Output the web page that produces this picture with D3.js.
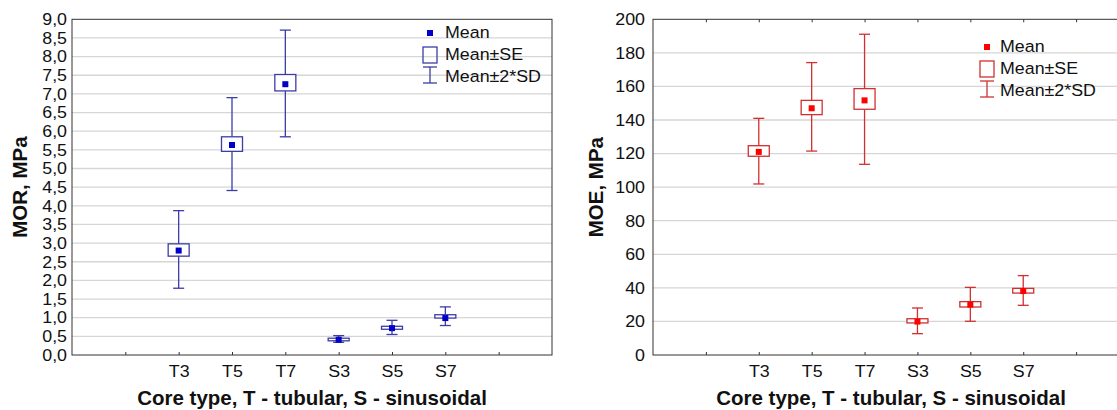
<!DOCTYPE html>
<html>
<head>
<meta charset="utf-8">
<script src="https://cdn.jsdelivr.net/npm/d3@7"></script>
<style>
  body { margin: 0; background: #fff; }
  svg { display: block; font-family: "Liberation Sans", Arial, sans-serif; }
</style>
</head>
<body>
<svg id="chart" width="1117" height="410"></svg>
<script>
// categories and tick positions
const categories = ["T3", "T5", "T7", "S3", "S5", "S7"];
const catSlots = [2, 3, 4, 5, 6, 7];
const xTicks = [1, 2, 3, 4, 5, 6, 7, 8];

// MOR, MPa
const morMean   = [2.80, 5.63, 7.26, 0.41, 0.72, 0.99];
const morSeLow  = [2.65, 5.46, 7.08, 0.38, 0.69, 0.99];
const morSeHigh = [2.98, 5.85, 7.52, 0.45, 0.77, 1.08];
const morSdLow  = [1.79, 4.41, 5.85, 0.34, 0.55, 0.79];
const morSdHigh = [3.87, 6.90, 8.71, 0.52, 0.93, 1.29];
const morTicks  = d3.range(0, 9.01, 0.5);

// MOE, MPa
const moeMean   = [121.0, 147.0, 151.7, 19.9, 30.0, 38.1];
const moeSeLow  = [118.4, 143.2, 146.4, 19.1, 28.6, 36.9];
const moeSeHigh = [124.7, 151.7, 158.7, 21.6, 31.8, 39.7];
const moeSdLow  = [101.9, 121.5, 113.6, 12.7, 20.1, 29.6];
const moeSdHigh = [141.0, 174.2, 191.1, 28.0, 40.3, 47.3];
const moeTicks  = d3.range(0, 201, 20);

const legendKeys = ["Mean", "Mean±SE", "Mean±2*SD"];

const svg = d3.select("#chart");
const plotTop = 19.3, plotBottom = 355;
const labelSize = "16.5px";

// the source font runs wider than Arial, stretch regular text a bit
const wide = sel => sel.attr("transform", function () {
    const x = +this.getAttribute("x") || 0;
    return `translate(${x},0) scale(1.08,1) translate(${-x},0)`;
});

function drawPanel(opt) {
    const g = svg.append("g");
    const x = d3.scaleLinear().domain([0, 9]).range([opt.left, opt.left + opt.width]);
    const y = d3.scaleLinear().domain(opt.domain).range([plotBottom, plotTop]);

    // grid
    g.append("g")
        .selectAll("line")
        .data(opt.ticks.slice(1, -1))
        .enter()
        .append("line")
        .attr("x1", opt.left)
        .attr("x2", opt.left + opt.width)
        .attr("y1", d => y(d))
        .attr("y2", d => y(d))
        .attr("stroke", "#d6d6d6")
        .attr("stroke-width", 1.3);

    // y axis labels
    const yAxis = g.append("g")
        .attr("transform", `translate(${opt.left},0)`)
        .call(d3.axisLeft(y).tickValues(opt.ticks).tickSize(0).tickPadding(opt.yPad).tickFormat(opt.fmt));
    yAxis.select(".domain").remove();
    yAxis.selectAll("text").style("font-size", labelSize).attr("fill", "#111").call(wide);

    // x axis, ticks point inward
    const xAxis = g.append("g")
        .attr("transform", `translate(0,${plotBottom})`)
        .call(d3.axisBottom(x).tickValues(xTicks).tickSizeInner(-3).tickSizeOuter(0).tickPadding(10)
            .tickFormat(d => {
                const i = catSlots.indexOf(d);
                return i < 0 ? "" : categories[i];
            }));
    xAxis.select(".domain").remove();
    xAxis.selectAll("line").attr("stroke", "#333");
    xAxis.selectAll("text").style("font-size", labelSize).attr("fill", "#111").call(wide);

    if (opt.topTicks) {
        const tAxis = g.append("g")
            .attr("transform", `translate(0,${plotTop})`)
            .call(d3.axisTop(x).tickValues(xTicks).tickSizeInner(-3).tickSizeOuter(0).tickFormat(""));
        tAxis.select(".domain").remove();
        tAxis.selectAll("line").attr("stroke", "#333");
    }

    // frame
    g.append("rect")
        .attr("x", opt.left)
        .attr("y", plotTop)
        .attr("width", opt.width)
        .attr("height", plotBottom - plotTop)
        .attr("fill", "none")
        .attr("stroke", "#333")
        .attr("stroke-width", 1);

    // titles
    g.append("text")
        .attr("transform", `translate(${opt.yTitleX},${(plotTop + plotBottom) / 2}) rotate(-90)`)
        .attr("text-anchor", "middle")
        .attr("dy", "0.36em")
        .style("font-size", "20.5px")
        .style("font-weight", "bold")
        .attr("fill", "#111")
        .text(opt.yTitle);

    g.append("text")
        .attr("x", x(4.5))
        .attr("y", 405)
        .attr("text-anchor", "middle")
        .style("font-size", "20.5px")
        .style("font-weight", "bold")
        .attr("fill", "#111")
        .text("Core type, T - tubular, S - sinusoidal");

    // whiskers (mean ± 2*SD) and SE boxes
    const capW = 11, boxW = 21, dot = 6;
    const marks = g.append("g").attr("stroke", opt.line).attr("stroke-width", 1.3).attr("fill", "none");
    categories.forEach((c, i) => {
        const cx = x(catSlots[i]);
        marks.append("line").attr("x1", cx).attr("x2", cx).attr("y1", y(opt.sdHigh[i])).attr("y2", y(opt.seHigh[i]));
        marks.append("line").attr("x1", cx).attr("x2", cx).attr("y1", y(opt.seLow[i])).attr("y2", y(opt.sdLow[i]));
        marks.append("line").attr("x1", cx - capW / 2).attr("x2", cx + capW / 2).attr("y1", y(opt.sdHigh[i])).attr("y2", y(opt.sdHigh[i]));
        marks.append("line").attr("x1", cx - capW / 2).attr("x2", cx + capW / 2).attr("y1", y(opt.sdLow[i])).attr("y2", y(opt.sdLow[i]));
        marks.append("rect")
            .attr("x", cx - boxW / 2)
            .attr("y", y(opt.seHigh[i]))
            .attr("width", boxW)
            .attr("height", y(opt.seLow[i]) - y(opt.seHigh[i]))
            .attr("fill", "#fff");
    });
    g.append("g")
        .selectAll("rect")
        .data(opt.mean)
        .enter()
        .append("rect")
        .attr("x", (d, i) => x(catSlots[i]) - dot / 2)
        .attr("y", d => y(d) - dot / 2)
        .attr("width", dot)
        .attr("height", dot)
        .attr("fill", opt.dot);

    // legend
    const L = opt.legend;
    const leg = g.append("g");
    leg.append("rect").attr("x", L.cx - 3).attr("y", L.y0 - 3).attr("width", 6).attr("height", 6).attr("fill", opt.dot);
    leg.append("rect").attr("x", L.cx - 7).attr("y", L.y0 + 14).attr("width", 14).attr("height", 16)
        .attr("fill", "none").attr("stroke", opt.line).attr("stroke-width", 1.3);
    leg.append("line").attr("x1", L.cx).attr("x2", L.cx).attr("y1", L.y0 + 34).attr("y2", L.y0 + 50)
        .attr("stroke", opt.line).attr("stroke-width", 1.3);
    [L.y0 + 34, L.y0 + 50].forEach(yy => {
        leg.append("line").attr("x1", L.cx - 7).attr("x2", L.cx + 7).attr("y1", yy).attr("y2", yy)
            .attr("stroke", opt.line).attr("stroke-width", 1.3);
    });
    leg.selectAll("text")
        .data(legendKeys)
        .enter()
        .append("text")
        .attr("x", L.tx)
        .attr("y", (d, i) => L.y0 + 5.5 + i * 21.7)
        .style("font-size", labelSize)
        .attr("fill", "#111")
        .text(d => d)
        .call(wide);
}

drawPanel({
    left: 72, width: 480, domain: [0, 9], ticks: morTicks,
    fmt: d => d3.format(".1f")(d).replace(".", ","),
    yPad: 5, yTitleX: 20, yTitle: "MOR, MPa",
    mean: morMean, seLow: morSeLow, seHigh: morSeHigh, sdLow: morSdLow, sdHigh: morSdHigh,
    line: "#3c3ca8", dot: "#0000c8", topTicks: false,
    legend: { cx: 430, y0: 33, tx: 445 }
});

drawPanel({
    left: 653, width: 476, domain: [0, 200], ticks: moeTicks,
    fmt: d3.format("d"),
    yPad: 8, yTitleX: 596, yTitle: "MOE, MPa",
    mean: moeMean, seLow: moeSeLow, seHigh: moeSeHigh, sdLow: moeSdLow, sdHigh: moeSdHigh,
    line: "#d03030", dot: "#ff0000", topTicks: true,
    legend: { cx: 987, y0: 47, tx: 1000 }
});
</script>
</body>
</html>
